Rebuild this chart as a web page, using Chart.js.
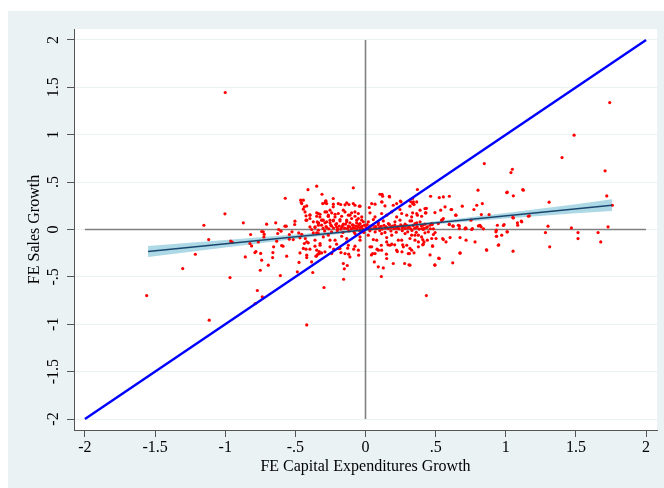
<!DOCTYPE html>
<html>
<head>
<meta charset="utf-8">
<script src="https://cdn.jsdelivr.net/npm/chart.js@4.4.0/dist/chart.umd.min.js"></script>
<style>
  html, body { margin: 0; padding: 0; background: #ffffff; }
  #frame { position: absolute; left: 8px; top: 11px; width: 656px; height: 477px; background: #EAF2F3; }
</style>
</head>
<body>
<div id="frame"><canvas id="chart_1" width="656" height="477"></canvas></div>
<script>
// axis ticks (same on both axes)
const tickValues = [-2, -1.5, -1, -0.5, 0, 0.5, 1, 1.5, 2];
const tickLabels = ["-2", "-1.5", "-1", "-.5", "0", ".5", "1", "1.5", "2"];

// [capex growth, sales growth] per firm
const firmPoints = [
  [-1.000, 1.446], [-1.560, -0.697], [-1.303, -0.412], [-1.213, -0.261], [-1.114, -0.957],
  [-0.966, -0.507], [-1.002, 0.165], [-1.152, 0.045], [-1.118, -0.106], [-0.871, 0.070],
  [-0.961, -0.123], [-0.950, -0.134], [-0.857, -0.289], [-0.824, -0.148], [-0.812, -0.173],
  [-0.819, -0.053], [-0.764, -0.131], [-0.781, -0.232], [-0.788, -0.243], [-0.747, -0.253],
  [-0.740, -0.324], [-0.750, -0.430], [-0.771, -0.644], [-0.736, -0.711], [-0.786, -0.781],
  [-0.740, -0.021], [-0.729, -0.025], [-0.722, -0.050], [-0.724, -0.078], [-0.705, 0.056],
  [-0.693, -0.377], [-0.662, -0.296], [-0.660, -0.243], [-0.655, -0.183], [-0.640, 0.070],
  [-0.633, -0.123], [-0.619, 0.000], [-0.626, -0.042], [-0.602, -0.018], [-0.607, -0.486],
  [-0.598, -0.169], [-0.588, -0.176], [-0.574, 0.035], [-0.565, 0.035], [-0.572, 0.330],
  [-0.562, -0.282], [-0.543, -0.053], [-0.543, -0.102], [-0.524, -0.025], [-0.515, -0.106],
  [-0.503, 0.088], [-0.505, 0.053], [-0.486, -0.447], [-0.476, -0.036], [-0.467, -0.088],
  [-0.467, -0.247], [-0.474, -0.348], [-0.462, 0.310], [-0.458, 0.285], [-0.455, -0.050],
  [-0.443, 0.214], [-0.436, 0.240], [-0.436, -0.148], [-0.443, -0.200], [-0.429, -0.095],
  [-0.424, 0.144], [-0.424, 0.098], [-0.424, -0.208], [-0.419, -1.007], [-0.419, -0.296],
  [-0.410, 0.420], [-0.408, -0.141], [-0.396, 0.154], [-0.396, 0.116], [-0.396, 0.027],
  [-0.396, -0.208], [-0.384, 0.000], [-0.376, -0.454], [-0.372, -0.036], [-0.360, 0.021],
  [-0.360, -0.176], [-0.353, -0.282], [-0.348, 0.457], [-0.348, -0.036], [-0.348, -0.218],
  [-0.344, 0.080], [-0.339, -0.260], [-0.336, 0.169], [-0.336, 0.045], [-0.336, -0.007],
  [-0.330, -0.232], [-0.310, 0.372], [-0.305, 0.274], [-0.305, 0.098], [-0.296, -0.612],
  [-0.282, 0.302], [-0.277, 0.186], [-0.265, 0.141], [-0.289, 0.070], [-0.253, 0.098],
  [-0.324, 0.161], [-0.334, 0.070], [-0.455, 0.274], [-0.419, 0.249], [-0.443, 0.309],
  [-0.087, 0.440], [-0.230, 0.327], [-0.284, 0.299], [-0.277, 0.274], [-0.230, 0.239],
  [-0.194, 0.274], [-0.177, 0.264], [-0.134, 0.281], [-0.118, 0.264], [-0.087, 0.274],
  [-0.075, 0.256], [-0.044, 0.246], [0.044, 0.274], [0.027, 0.232], [0.103, 0.372],
  [0.170, 0.351], [0.139, 0.249], [0.222, 0.274], [0.246, 0.211], [0.317, 0.246],
  [0.341, 0.274], [0.365, 0.291], [0.118, 0.372], [0.122, 0.351], [0.172, 0.344],
  [0.118, 0.290], [0.248, 0.301], [0.322, 0.295], [0.336, 0.274], [0.434, 0.224],
  [-0.289, 0.281], [-0.229, 0.267], [-0.146, 0.260], [-0.039, 0.246], [0.068, 0.267],
  [0.115, 0.292], [0.198, 0.256], [0.253, 0.292], [-0.253, 0.204], [-0.348, 0.140],
  [-0.265, 0.140], [-0.217, 0.161], [-0.158, 0.204], [-0.111, 0.151], [-0.075, 0.186],
  [-0.051, 0.116], [0.032, 0.176], [0.068, 0.133], [0.115, 0.169], [0.151, 0.151],
  [0.187, 0.186], [0.222, 0.133], [0.258, 0.169], [0.294, 0.151], [0.329, 0.133],
  [0.365, 0.169], [0.400, 0.140], [-0.313, 0.098], [-0.277, 0.081], [-0.229, 0.091],
  [-0.182, 0.105], [-0.134, 0.081], [-0.099, 0.116], [-0.063, 0.070], [-0.027, 0.098],
  [0.020, 0.081], [0.056, 0.105], [0.092, 0.070], [0.127, 0.091], [0.163, 0.063],
  [0.210, 0.081], [0.246, 0.098], [0.282, 0.056], [0.317, 0.091], [0.353, 0.063],
  [0.389, 0.081], [-0.431, 0.186], [-0.396, 0.151], [-0.348, 0.176], [-0.325, 0.133],
  [-0.289, 0.186], [-0.265, 0.151], [-0.241, 0.176], [-0.217, 0.133], [-0.194, 0.169],
  [-0.170, 0.140], [-0.146, 0.186], [-0.122, 0.151], [-0.099, 0.176], [-0.075, 0.140],
  [-0.051, 0.169], [-0.027, 0.133], [-0.419, 0.098], [-0.372, 0.081], [-0.336, 0.063],
  [-0.301, 0.098], [-0.253, 0.070], [-0.229, 0.098], [-0.206, 0.063], [-0.182, 0.091],
  [-0.158, 0.056], [-0.134, 0.098], [-0.111, 0.070], [-0.087, 0.046], [-0.063, 0.098],
  [-0.039, 0.063], [-0.015, 0.081], [-0.360, 0.028], [-0.313, 0.046], [-0.277, 0.021],
  [-0.241, 0.035], [-0.206, 0.028], [-0.170, 0.021], [-0.122, 0.035], [-0.087, 0.021],
  [-0.051, 0.028], [-0.027, 0.035],
  // dense band just above the zero line
  [-0.302, 0.012], [-0.281, 0.031], [-0.262, 0.007], [-0.247, 0.046], [-0.228, 0.016],
  [-0.213, 0.052], [-0.198, 0.009], [-0.187, 0.037], [-0.176, 0.004], [-0.163, 0.041],
  [-0.149, 0.014], [-0.142, 0.057], [-0.128, 0.011], [-0.112, 0.029], [-0.101, 0.006],
  [-0.093, 0.049], [-0.079, 0.013], [-0.068, 0.036], [-0.061, 0.008], [-0.048, 0.051],
  [-0.037, 0.015], [-0.029, 0.026], [-0.018, 0.004], [-0.008, 0.044], [0.006, 0.021],
  [0.012, 0.052], [0.021, 0.011], [0.033, 0.036], [0.041, 0.006], [0.052, 0.045],
  [0.061, 0.016], [0.072, 0.031], [0.079, 0.008], [0.091, 0.049], [0.098, 0.021],
  [0.111, 0.034], [0.119, 0.005], [0.132, 0.044], [0.141, 0.015], [0.148, 0.029],
  [0.162, 0.010], [0.171, 0.051], [0.178, 0.019], [0.192, 0.036], [0.201, 0.008],
  [0.209, 0.046], [0.221, 0.014], [0.232, 0.031], [0.239, 0.006], [0.251, 0.048],
  [0.262, 0.019], [0.268, 0.036], [0.281, 0.011], [0.292, 0.044], [0.301, 0.016],
  [0.312, 0.029], [0.323, 0.008], [0.338, 0.041], [0.351, 0.014], [0.368, 0.031],
  [0.382, 0.005], [0.398, 0.039], [0.419, 0.012], [0.441, 0.028], [0.462, 0.008],
  // just below and under the zero line
  [-0.291, -0.015], [-0.242, -0.026], [-0.201, -0.010], [-0.161, -0.031], [-0.119, -0.016],
  [-0.082, -0.025], [-0.041, -0.012], [-0.012, -0.031], [0.031, -0.014], [0.069, -0.026],
  [0.102, -0.011], [0.139, -0.031], [0.181, -0.016], [0.219, -0.028], [0.262, -0.012],
  [0.301, -0.025], [0.331, -0.010], [0.362, -0.030],
  [-0.336, -0.043], [-0.301, -0.078], [-0.265, -0.060], [-0.217, -0.113], [-0.170, -0.071],
  [-0.134, -0.095], [-0.075, -0.043], [-0.039, -0.078], [0.020, -0.060], [0.056, -0.106],
  [0.115, -0.043], [0.151, -0.085], [0.187, -0.060], [0.234, -0.113], [0.282, -0.043],
  [0.317, -0.095], [0.353, -0.060], [0.400, -0.078], [-0.324, -0.166], [-0.253, -0.183],
  [-0.194, -0.201], [-0.122, -0.166], [-0.051, -0.218], [0.032, -0.183], [0.092, -0.218],
  [0.175, -0.166], [0.222, -0.218], [0.270, -0.183], [0.329, -0.218], [0.377, -0.183],
  [-0.313, -0.247], [-0.146, -0.254], [0.068, -0.254], [0.305, -0.254],
  [-0.419, -0.131], [-0.360, -0.113], [-0.324, -0.148], [-0.253, -0.113], [-0.206, -0.155],
  [-0.182, -0.201], [-0.134, -0.131], [-0.075, -0.176], [-0.039, -0.113], [-0.111, -0.289],
  [-0.158, -0.359], [0.044, -0.183], [0.080, -0.113], [0.115, -0.218], [0.151, -0.131],
  [0.187, -0.155], [0.258, -0.113], [0.294, -0.166], [0.151, -0.306], [0.091, -0.394],
  [0.198, -0.359], [0.317, -0.377], [-0.419, -0.271], [-0.384, -0.342], [-0.289, -0.236],
  [-0.241, -0.254],
  // lower part
  [0.434, -0.697], [-0.156, -0.525], [-0.151, -0.415], [-0.130, -0.380], [0.113, -0.496],
  [0.127, -0.405], [0.063, -0.342], [0.279, -0.359], [0.310, -0.373], [0.494, -0.373],
  [0.522, -0.303], [0.460, -0.268], [0.622, -0.352], [0.674, -0.250], [0.862, -0.215],
  [1.052, -0.229], [1.313, -0.183], [0.950, -0.162], [-0.120, -0.260], [-0.084, -0.208],
  [-0.049, -0.271], [-0.175, -0.243], [-0.127, -0.197], [-0.227, -0.208], [0.042, -0.268],
  [0.051, -0.254], [0.082, -0.208], [0.149, -0.260], [0.227, -0.233], [0.313, -0.254],
  [0.113, -0.166], [0.160, -0.162], [0.208, -0.162], [0.265, -0.162], [0.408, -0.162],
  [0.477, -0.173], [-0.348, -0.278], [-0.329, -0.254], [0.260, -0.236],
  // right of centre
  [1.037, 0.601], [1.047, 0.636], [1.006, 0.390], [1.054, 0.355], [1.125, 0.415],
  [0.802, 0.415], [0.464, 0.351], [0.526, 0.337], [0.555, 0.344], [0.598, 0.351],
  [0.370, 0.422], [0.336, 0.327], [0.341, 0.292], [0.346, 0.264], [0.424, 0.221],
  [0.389, 0.204], [0.431, 0.176], [0.495, 0.179], [0.536, 0.204], [0.567, 0.239],
  [0.614, 0.211], [0.645, 0.151], [0.690, 0.246], [0.773, 0.211], [0.793, 0.256],
  [0.833, 0.274], [0.826, 0.158], [0.881, 0.158], [0.336, 0.176], [0.370, 0.151],
  [0.329, 0.091], [0.365, 0.070], [0.424, 0.056], [0.472, 0.063], [0.519, 0.063],
  [0.543, 0.098], [0.555, 0.116], [0.598, 0.056], [0.622, 0.038], [0.662, 0.045],
  [0.717, 0.010], [0.752, 0.098], [0.805, 0.038], [0.816, 0.045], [0.940, 0.045],
  [0.988, 0.052], [1.054, 0.122], [1.085, 0.045], [1.114, 0.081], [1.161, 0.140],
  [0.365, 0.021], [0.412, 0.000], [0.436, 0.021], [0.484, 0.007], [0.669, 0.010],
  [0.709, 0.007], [0.757, 0.000], [0.841, 0.007], [0.714, 0.017], [0.669, 0.038],
  [0.626, 0.035], [0.597, 0.052], [0.610, 0.211], [0.643, 0.151], [0.427, 0.175],
  [0.476, 0.052], [0.460, 0.045], [0.408, 0.045], [0.401, 0.010], [0.824, 0.028],
  [0.762, 0.010], [0.545, 0.098],
  [0.329, -0.060], [0.353, -0.113], [0.377, -0.131], [0.408, -0.106], [0.417, -0.131],
  [0.448, -0.025], [0.472, -0.095], [0.503, -0.095], [0.555, -0.106], [0.574, -0.131],
  [0.603, -0.085], [0.674, -0.085], [0.717, -0.113], [0.781, -0.131], [0.930, -0.025],
  [0.935, -0.071], [1.011, -0.025], [0.971, -0.060], [0.377, -0.060], [0.317, -0.200],
  [0.412, -0.155], [0.346, -0.246], [0.479, -0.176], [0.674, -0.246], [0.864, -0.218],
  [0.947, -0.166], [0.526, -0.306], [0.495, -0.377], [0.424, -0.035], [0.496, -0.032],
  [0.484, -0.053], [0.441, -0.113], [0.550, -0.095],
  // far right
  [1.741, 1.339], [1.487, 0.995], [1.401, 0.759], [0.847, 0.696], [1.708, 0.619],
  [1.720, 0.354], [1.729, 0.028], [1.658, -0.032], [1.677, -0.131], [1.468, 0.017],
  [1.515, -0.032], [1.515, -0.096], [1.309, 0.288], [1.283, -0.032], [1.301, 0.035],
  [1.121, 0.422], [1.011, 0.394], [1.111, 0.088], [1.083, 0.070], [1.050, 0.126],
  [0.983, 0.042], [1.009, -0.025], [1.168, 0.144], [0.933, -0.007], [0.933, -0.071],
  [1.760, 0.256]
];

// linear fit and its confidence band
const fitX = [-1.55, 1.757];
const fitY = [-0.232, 0.256];
const bandX = [-1.55, -1.0, -0.5, 0, 0.5, 1.0, 1.5, 1.757];
const bandUpper = [-0.174, -0.111, -0.053, 0.010, 0.087, 0.175, 0.267, 0.318];
const bandLower = [-0.290, -0.191, -0.101, -0.016, 0.055, 0.115, 0.171, 0.194];

// reference lines
const diagX = [-2, 2];
const zeroSpan = [-2, 2];

const serif = '"Liberation Serif", "Times New Roman", serif';

function pairs(xs, ys) {
  return xs.map((x, i) => ({ x: x, y: ys[i] }));
}

const plotBg = {
  id: "plotBg",
  beforeDraw(chart) {
    const a = chart.chartArea;
    const ctx = chart.ctx;
    ctx.save();
    ctx.fillStyle = "#ffffff";
    ctx.fillRect(a.left, a.top, a.right - a.left, a.bottom - a.top);
    ctx.restore();
  },
};

// y tick labels are rotated like Stata's
const yLabels = {
  id: "yLabels",
  afterDraw(chart) {
    const ctx = chart.ctx;
    const ys = chart.scales.y;
    ctx.save();
    ctx.font = "16px " + serif;
    ctx.fillStyle = "#000000";
    ctx.textAlign = "center";
    ctx.textBaseline = "middle";
    tickValues.forEach(function (v, i) {
      ctx.save();
      ctx.translate(46, ys.getPixelForValue(v));
      ctx.rotate(-Math.PI / 2);
      ctx.fillText(tickLabels[i], 0, 0);
      ctx.restore();
    });
    ctx.restore();
  },
};

const ctx1 = document.getElementById("chart_1").getContext("2d");
var myChart1 = new Chart(ctx1, {
  type: "scatter",
  data: {
    datasets: [
      {
        type: "line",
        data: pairs(diagX, diagX),
        borderColor: "#0000FF",
        borderWidth: 2.4,
        pointRadius: 0,
        fill: false,
      },
      {
        type: "line",
        data: pairs(fitX, fitY),
        borderColor: "#1A476F",
        borderWidth: 1.6,
        pointRadius: 0,
        fill: false,
      },
      {
        data: firmPoints.map((p) => ({ x: p[0], y: p[1] })),
        backgroundColor: "#FF0000",
        borderWidth: 0,
        pointRadius: 1.6,
      },
      {
        type: "line",
        data: pairs(zeroSpan, [0, 0]),
        borderColor: "#808080",
        borderWidth: 1.6,
        pointRadius: 0,
        fill: false,
      },
      {
        type: "line",
        data: pairs([0, 0], zeroSpan),
        borderColor: "#808080",
        borderWidth: 1.6,
        pointRadius: 0,
        fill: false,
      },
      {
        type: "line",
        data: pairs(bandX, bandUpper),
        borderWidth: 0,
        borderColor: "rgba(0,0,0,0)",
        backgroundColor: "#ADD8E6",
        pointRadius: 0,
        fill: "+1",
      },
      {
        type: "line",
        data: pairs(bandX, bandLower),
        borderWidth: 0,
        borderColor: "rgba(0,0,0,0)",
        pointRadius: 0,
        fill: false,
      },
    ],
  },
  options: {
    responsive: false,
    animation: false,
    layout: { padding: { left: 0, right: 7, top: 18, bottom: 0 } },
    plugins: {
      legend: { display: false },
      tooltip: { enabled: false },
    },
    scales: {
      x: {
        type: "linear",
        min: -2.078,
        max: 2.078,
        afterBuildTicks: (s) => {
          s.ticks = tickValues.map((v) => ({ value: v }));
        },
        afterFit: (s) => {
          s.height = 58;
        },
        ticks: {
          callback: (v, i) => tickLabels[i],
          color: "#000000",
          font: { family: serif, size: 16 },
          padding: 1,
          maxRotation: 0,
          autoSkip: false,
        },
        grid: { drawOnChartArea: false, tickColor: "#555555", tickLength: 7 },
        border: { color: "#555555", width: 1 },
        title: {
          display: true,
          text: "FE Capital Expenditures Growth",
          color: "#000000",
          font: { family: serif, size: 16 },
          padding: { top: 0, bottom: 12 },
        },
      },
      y: {
        type: "linear",
        min: -2.116,
        max: 2.116,
        afterBuildTicks: (s) => {
          s.ticks = tickValues.map((v) => ({ value: v }));
        },
        afterFit: (s) => {
          s.width = 66;
        },
        ticks: {
          callback: (v, i) => tickLabels[i],
          color: "rgba(0,0,0,0)",
          font: { family: serif, size: 16 },
          autoSkip: false,
        },
        grid: { color: "#EAF2F3", lineWidth: 1, tickColor: "#555555", tickLength: 7 },
        border: { color: "#555555", width: 1 },
        title: {
          display: true,
          text: "FE Sales Growth",
          color: "#000000",
          font: { family: serif, size: 16 },
          padding: { top: 17, bottom: 0 },
        },
      },
    },
  },
  plugins: [plotBg, yLabels],
});
</script>
</body>
</html>
